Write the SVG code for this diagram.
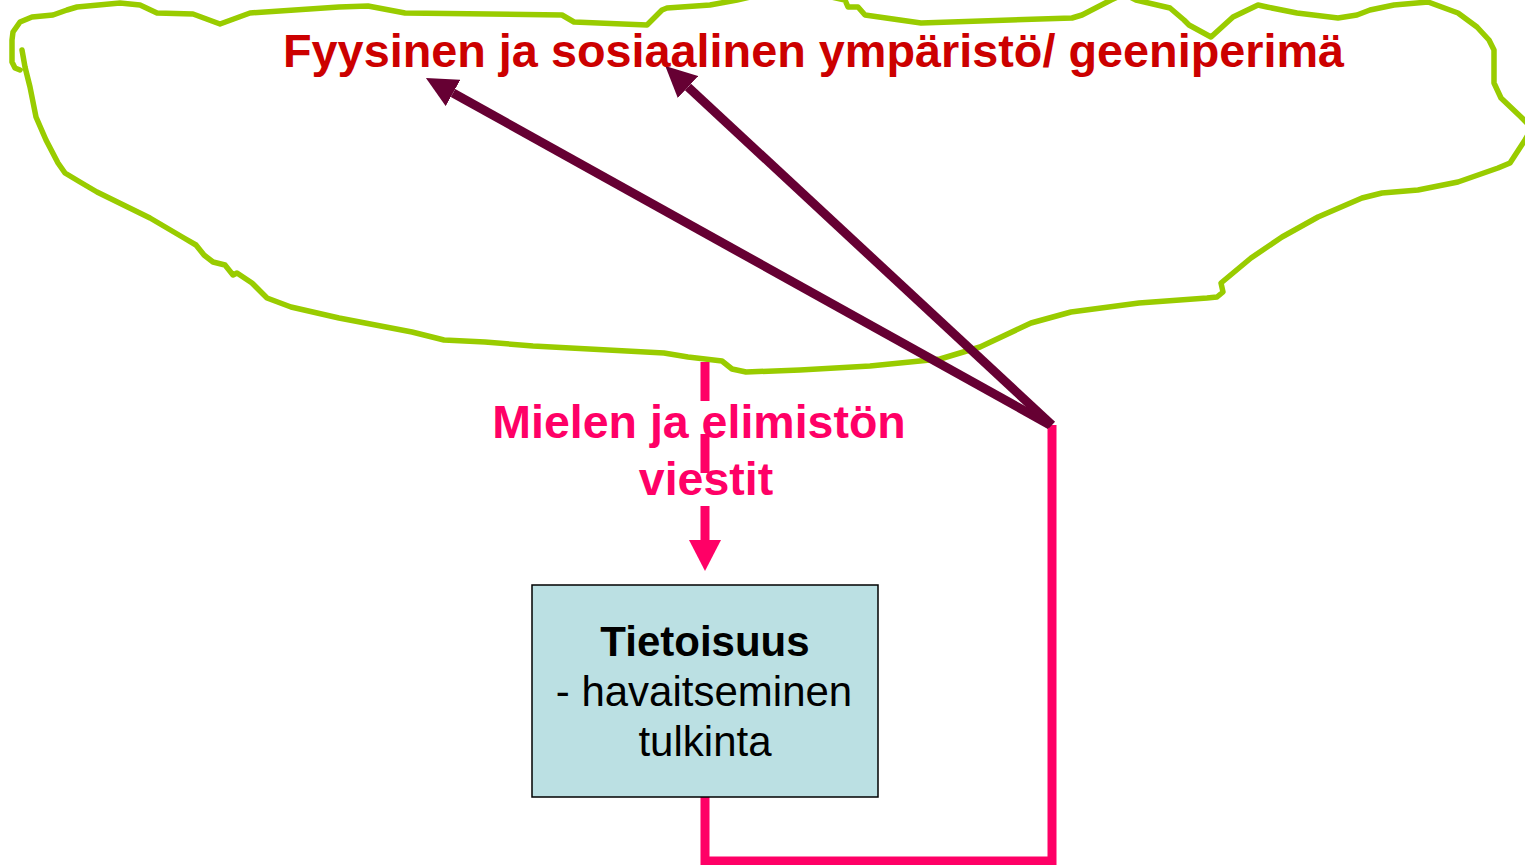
<svg xmlns="http://www.w3.org/2000/svg" width="1525" height="865" viewBox="0 0 1525 865">
  <style>
    .cloud { fill: none; stroke: #99CC00; stroke-width: 5.5; stroke-linejoin: round; stroke-linecap: round; }
    .dark { fill: none; stroke: #660033; stroke-width: 9; stroke-linecap: butt; }
    .pink { fill: none; stroke: #FF0066; stroke-width: 9; }
    .title { font-family: "Liberation Sans", Arial, sans-serif; font-weight: bold; font-size: 46.8px; fill: #CC0000; }
    .msg { font-family: "Liberation Sans", Arial, sans-serif; font-weight: bold; font-size: 46.5px; fill: #FF0066; text-anchor: middle; }
    .box { fill: #BBE0E3; stroke: #000000; stroke-width: 1.5; }
    .boxt { font-family: "Liberation Sans", Arial, sans-serif; font-size: 42px; fill: #000000; text-anchor: middle; }
  </style>
  <defs>
    <marker id="darkhead" markerUnits="userSpaceOnUse" viewBox="0 0 31 30" refX="0" refY="15" markerWidth="31" markerHeight="30" orient="auto">
      <path d="M0,0 L31,15 L0,30 z" fill="#660033"/>
    </marker>
  </defs>
  <rect width="1525" height="865" fill="#FFFFFF"/>

  <g id="environment">
    <polyline class="cloud" points="22,50 25,67 30,87 36,117 46,140 58,163 65,173 80,182 97,192 150,218 184,238 196,245 204,255 213,262 225,265 233,275 237,273 252,283 267,298 291,307 339,318 412,332 444,340 485,342 533,346 664,353 688,357 722,361 732,369 746,372 800,370 870,366 940,359 980,347 1031,323 1071,312 1139,303 1207,298 1217,297 1223,292 1221,283 1251,258 1282,237 1318,217 1362,198 1382,193 1418,190 1458,182 1498,168 1510,163 1525,140 1532,128 1521,117 1501,98 1494,83 1494,50 1489,40 1477,27 1458,13 1428,2 1394,5 1370,10 1357,15 1338,18 1297,13 1267,7 1258,5 1233,17 1211,37 1189,25 1184,20 1170,8 1136,0 1124,-6 1111,0 1082,15 1072,18 921,23 865,15 858,7 848,7 845,0 790,-12 737,0 710,5 667,8 662,10 647,25 574,22 562,15 405,13 368,6 339,7 250,13 220,24 193,14 157,13 140,5 120,3 77,7 67,10 53,15 32,17 20,22 13,32 12,40 12,62 15,68 20,70"/>
  </g>

  <g id="connectors">
    <line class="pink" x1="705" y1="362" x2="705" y2="545" stroke-dasharray="39 33"/>
    <polygon points="689,540 721,540 705,571" fill="#FF0066"/>
    <polyline class="pink" points="705,797 705,861 1052,861 1052,425"/>
    <line class="dark" x1="1050" y1="425" x2="453" y2="93" marker-end="url(#darkhead)"/>
    <line class="dark" x1="1052" y1="425" x2="688" y2="87" marker-end="url(#darkhead)"/>
  </g>

  <g id="title-text">
    <text class="title" x="283" y="67">Fyysinen ja sosiaalinen ympäristö/ geeniperimä</text>
  </g>

  <g id="signals">
    <text class="msg" x="699" y="438">Mielen ja elimistön</text>
    <text class="msg" x="706" y="495">viestit</text>
  </g>

  <g id="tietoisuus">
    <rect class="box" x="532" y="585" width="346" height="212"/>
    <text class="boxt" x="705" y="656" font-weight="bold">Tietoisuus</text>
    <text class="boxt" x="704" y="706">- havaitseminen</text>
    <text class="boxt" x="705" y="756">tulkinta</text>
  </g>
</svg>
